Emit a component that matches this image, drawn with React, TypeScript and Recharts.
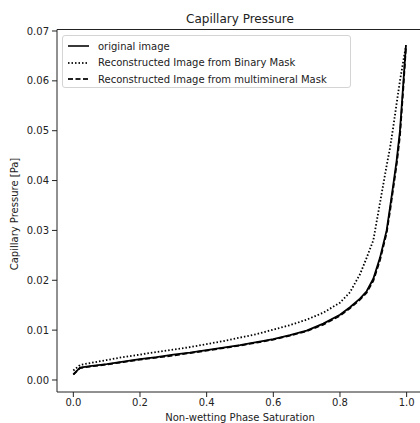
import { LineChart, Line, XAxis, YAxis, Legend, ReferenceLine } from 'recharts'

// values
const saturation = [0, 0.02, 0.05, 0.1, 0.15, 0.2, 0.25, 0.3, 0.35, 0.4, 0.45, 0.5, 0.55, 0.6, 0.65, 0.7, 0.75, 0.8, 0.83, 0.86, 0.88, 0.9, 0.92, 0.94, 0.95, 0.96, 0.97, 0.98, 0.99, 0.998]
const originalImage = [0.0011, 0.0025, 0.0028, 0.0032, 0.0037, 0.0042, 0.0046, 0.0051, 0.0055, 0.006, 0.0065, 0.007, 0.0076, 0.0082, 0.009, 0.0099, 0.0113, 0.0131, 0.0146, 0.0163, 0.0178, 0.0203, 0.0245, 0.03, 0.0345, 0.0392, 0.044, 0.05, 0.0595, 0.0672]
const binaryMask = [0.0019, 0.003, 0.0034, 0.004, 0.0046, 0.0051, 0.0056, 0.0061, 0.0066, 0.0072, 0.0078, 0.0085, 0.0092, 0.0101, 0.011, 0.0121, 0.0135, 0.0155, 0.0176, 0.0212, 0.0245, 0.028, 0.0355, 0.043, 0.0465, 0.0508, 0.0555, 0.06, 0.064, 0.067]
const multimineralMask = [0.0011, 0.0024, 0.0027, 0.0031, 0.0036, 0.0041, 0.0045, 0.0049, 0.0054, 0.0059, 0.0064, 0.0069, 0.0075, 0.0081, 0.0089, 0.0098, 0.0111, 0.0129, 0.0144, 0.0161, 0.0175, 0.0199, 0.024, 0.0295, 0.0338, 0.0385, 0.0432, 0.049, 0.0585, 0.0668]

const xTicks = [0, 0.2, 0.4, 0.6, 0.8, 1.0]
const yTicks = [0, 0.01, 0.02, 0.03, 0.04, 0.05, 0.06, 0.07]

const data = saturation.map((s, i) => ({
  s,
  original: originalImage[i],
  binary: binaryMask[i],
  multi: multimineralMask[i],
}))

const series: { key: string; label: string; dash?: string; width: number }[] = [
  { key: 'original', label: 'original image', width: 1.8 },
  { key: 'binary', label: 'Reconstructed Image from Binary Mask', dash: '1.5 2', width: 1.8 },
  { key: 'multi', label: 'Reconstructed Image from multimineral Mask', dash: '5 2.5', width: 1.8 },
]

const font = '"DejaVu Sans", sans-serif'
const ink = '#222'

function LegendBox() {
  return (
    <div style={{ border: '1px solid #d4d4d4', borderRadius: 3, background: 'rgba(255,255,255,0.85)', padding: '2px 0 0 4px', boxSizing: 'border-box', width: 289, height: 53 }}>
      {series.map(item => (
        <div key={item.key} style={{ display: 'flex', alignItems: 'center', height: 16.5, fontSize: 10, color: ink, fontFamily: font }}>
          <svg width={24} height={10} style={{ marginRight: 7 }}>
            <line x1={1} y1={5} x2={22} y2={5} stroke={ink} strokeWidth={item.width} strokeDasharray={item.dash} />
          </svg>
          <span>{item.label}</span>
        </div>
      ))}
    </div>
  )
}

export default function App() {
  // fixed so the oversized plot area gets clipped without scrollbars
  return (
    <div style={{ position: 'fixed', top: 0, left: 0, width: 420, height: 423, overflow: 'hidden', background: '#fff', fontFamily: font }}>
      <LineChart width={440} height={423} data={data} margin={{ top: 29.5, right: 16.7, bottom: 1, left: 7 }}>
        <XAxis
          dataKey="s"
          type="number"
          domain={[-0.049, 1.05]}
          allowDataOverflow
          ticks={xTicks}
          tickFormatter={(v: number) => v.toFixed(1)}
          tick={{ fontSize: 10, fill: ink, fontFamily: font }}
          tickSize={5}
          tickMargin={2}
          height={30}
          stroke={ink}
        />
        <YAxis
          type="number"
          domain={[-0.00241, 0.0703]}
          allowDataOverflow
          ticks={yTicks}
          tickFormatter={(v: number) => v.toFixed(2)}
          tick={{ fontSize: 10, fill: ink, fontFamily: font }}
          tickSize={5}
          tickMargin={3}
          width={50}
          stroke={ink}
        />
        <ReferenceLine y={0.0703} stroke={ink} strokeWidth={1} />
        {series.map(item => (
          <Line
            key={item.key}
            type="linear"
            dataKey={item.key}
            name={item.label}
            stroke="#000"
            strokeWidth={item.width}
            strokeDasharray={item.dash}
            dot={false}
            isAnimationActive={false}
          />
        ))}
        <Legend
          layout="vertical"
          align="center"
          verticalAlign="middle"
          content={() => <LegendBox />}
          wrapperStyle={{ position: 'absolute', left: 62, top: 35, width: 289, height: 53 }}
        />
        <text x={240} y={23} textAnchor="middle" fontSize={12} fill={ink} fontFamily={font}>Capillary Pressure</text>
        <text x={240} y={421} textAnchor="middle" fontSize={10} fill={ink} fontFamily={font}>Non-wetting Phase Saturation</text>
        <text x={14} y={214} textAnchor="middle" dominantBaseline="central" fontSize={10} fill={ink} fontFamily={font} transform="rotate(-90 14 214)">Capillary Pressure [Pa]</text>
      </LineChart>
    </div>
  )
}
